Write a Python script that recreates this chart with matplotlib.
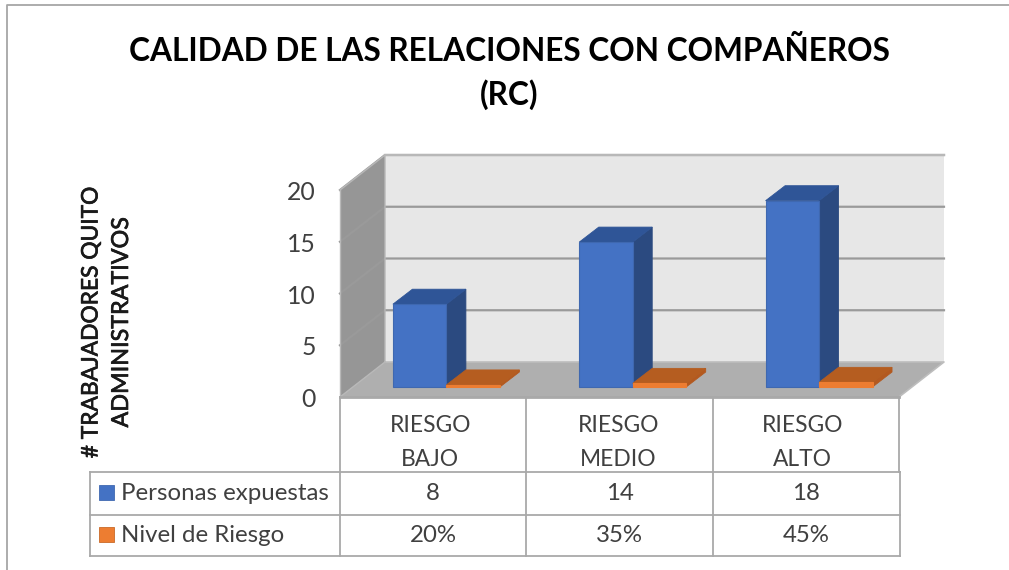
import matplotlib
matplotlib.use('Agg')
import matplotlib.pyplot as plt
import matplotlib.patheffects as pe
from matplotlib.patches import Polygon, Rectangle

plt.rcParams['font.family'] = ['Lato', 'DejaVu Sans']

# data
categorias = ['RIESGO\nBAJO', 'RIESGO\nMEDIO', 'RIESGO\nALTO']
personas = [8, 14, 18]
nivel = [0.20, 0.35, 0.45]
ticks_y = [0, 5, 10, 15, 20]
titulo = 'CALIDAD DE LAS RELACIONES CON COMPAÑEROS\n(RC)'
serie_1 = 'Personas expuestas'
serie_2 = 'Nivel de Riesgo'

W, H = 1009, 570
PX_X = 186.33    # pixels per category
PX_Y = 10.35     # pixels per unit
X0, Y0 = 340, 397

# depth of the box and of the bars, in axis units
DX, DY = 45 / PX_X, 35 / PX_Y
BDX, BDY = 19.5 / PX_X, 15 / PX_Y
BASE = 10 / PX_Y
BAR_W = 0.287
BAR_OFF = 0.284

GRIS = '#A9A9A9'
TXT = '#404040'

fig = plt.figure(figsize=(W / 100, H / 100), dpi=100, facecolor='white')

# chart axes: x in categories, y in values
ax = fig.add_axes([0, 0, 1, 1])
ax.set_xlim(-X0 / PX_X, (W - X0) / PX_X)
ax.set_ylim((Y0 - H) / PX_Y, Y0 / PX_Y)
ax.axis('off')

n = len(categorias)
top = ticks_y[-1]


def poly(pts, color, z=2, edge=None, lw=0.0):
    ax.add_patch(Polygon(pts, closed=True, facecolor=color, edgecolor=edge or color, linewidth=lw, zorder=z))


# walls
poly([(0, 0), (DX, DY), (DX, top + DY), (0, top)], '#969696')
poly([(DX, DY), (n + DX, DY), (n + DX, top + DY), (DX, top + DY)], '#E7E7E7')
poly([(0, 0), (n, 0), (n + DX, DY), (DX, DY)], '#AFAFAF')

for t in ticks_y[1:]:
    ax.plot([0, DX, n + DX], [t, t + DY, t + DY], color='#9A9A9A', lw=1.6, zorder=3, solid_joinstyle='miter')
ax.plot([DX, n + DX], [top + DY, top + DY], color='#B8B8B8', lw=1.6, zorder=3)
ax.plot([DX, n + DX, n], [DY, DY, 0], color='#BDBDBD', lw=1.2, zorder=3)
ax.plot([0, DX, DX], [top, top + DY, DY], color='#B8B8B8', lw=1.0, zorder=3)
ax.plot([0, 0], [0, top], color='#B8B8B8', lw=1.0, zorder=3)
ax.plot([0, DX], [0, DY], color='#B8B8B8', lw=1.0, zorder=3)
ax.plot([0, n], [0, 0], color=GRIS, lw=2.0, zorder=3)


def barra(x, v, frente, lado, tapa):
    y0, y1 = BASE, BASE + v
    poly([(x + BAR_W, y0), (x + BAR_W + BDX, y0 + BDY), (x + BAR_W + BDX, y1 + BDY), (x + BAR_W, y1)],
         lado, 5, lado, 0.6)
    poly([(x, y1), (x + BAR_W, y1), (x + BAR_W + BDX, y1 + BDY), (x + BDX, y1 + BDY)], tapa, 5, tapa, 0.6)
    poly([(x, y0), (x + BAR_W, y0), (x + BAR_W, y1), (x, y1)], frente, 5, '#3F68B0' if v > 1 else frente, 0.8)


for i in range(n):
    barra(i + BAR_OFF, personas[i], '#4472C4', '#2B4A80', '#2F5597')
    barra(i + BAR_OFF + BAR_W, nivel[i], '#ED7D31', '#B3591F', '#B55D20')

for t in ticks_y:
    ax.text(-24 / PX_X, t - 0.25, str(t), ha='right', va='center', fontsize=17.8, color=TXT)

# overlay in pixels for the frame, the title and the table
ov = fig.add_axes([0, 0, 1, 1], facecolor='none')
ov.set_xlim(0, W)
ov.set_ylim(H, 0)
ov.axis('off')

ov.plot([6.5, 6.5, W], [H, 4.5, 4.5], color='#A6A6A6', lw=1.3)

ov.text(509.5, 73, titulo, ha='center', va='center', fontsize=22.8, fontweight='bold',
        color='black', linespacing=1.55)

# the axis title is a bit heavier than regular Lato
grueso = [pe.withStroke(linewidth=0.5, foreground='#1A1A1A')]
ov.text(91, 322, '# TRABAJADORES QUITO', rotation=90, ha='center', va='center',
        fontsize=16.4, color='#1A1A1A', path_effects=grueso)
ov.text(121.5, 322, 'ADMINISTRATIVOS', rotation=90, ha='center', va='center',
        fontsize=16.8, color='#1A1A1A', path_effects=grueso)

# table
cols = [X0 + PX_X * i for i in range(n + 1)]
for x in cols:
    ov.plot([x, x], [Y0, 472], color=GRIS, lw=1.3)
    ov.plot([x + 1 if x == cols[-1] else x] * 2, [472, 555.5], color=GRIS, lw=1.3)
for y in [472, 514.5, 555.5]:
    ov.plot([90, cols[-1] + 1], [y, y], color=GRIS, lw=1.3)
ov.plot([90, 90], [472, 555.5], color=GRIS, lw=1.3)

ajuste = [-3, -1, -3]
for i in range(n):
    cx = X0 + PX_X * (i + 0.5)
    l1, l2 = categorias[i].split('\n')
    ov.text(cx + ajuste[i], 426, l1, ha='center', va='center', fontsize=16.4, color=TXT)
    ov.text(cx + ajuste[i], 459, l2, ha='center', va='center', fontsize=16.4, color=TXT)
    ov.text(cx, 494, str(personas[i]), ha='center', va='center', fontsize=17.3, color=TXT)
    ov.text(cx, 535, f'{nivel[i]:.0%}', ha='center', va='center', fontsize=17.3, color=TXT)

ov.add_patch(Rectangle((98.5, 485), 15, 15, facecolor='#4472C4', edgecolor='#3F68B0', lw=0.6))
ov.add_patch(Rectangle((98.5, 527), 15, 15, facecolor='#ED7D31', edgecolor='#C96A28', lw=0.6))
ov.text(121, 494, serie_1, ha='left', va='center', fontsize=17.3, color=TXT)
ov.text(121, 536, serie_2, ha='left', va='center', fontsize=17.3, color=TXT)

fig.savefig('out.png', dpi=100)
